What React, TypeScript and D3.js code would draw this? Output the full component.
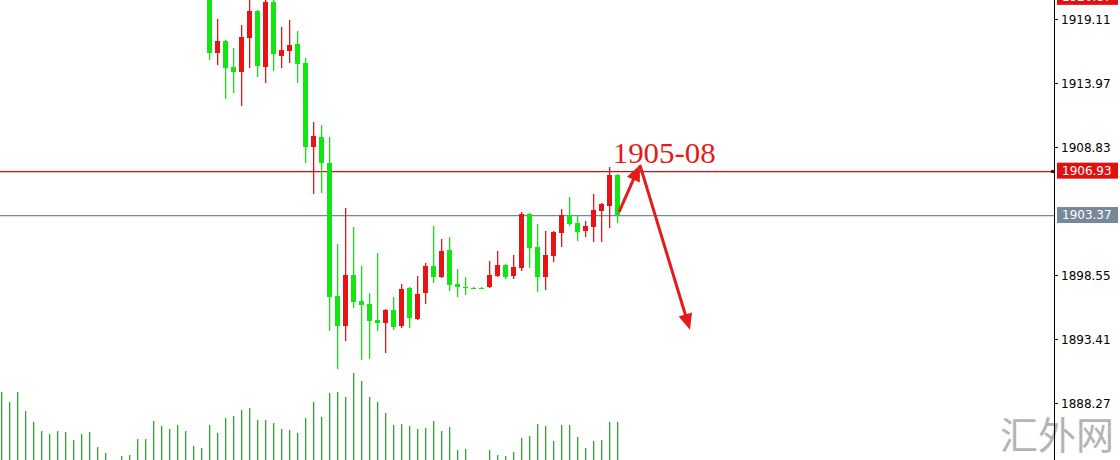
import React from 'react';
import * as d3 from 'd3';

const W = 1120;
const H = 460;

// index of the first visible candle within the volume series
const firstCandleIndex = 26;

const opens = [1921.40, 1916.37, 1917.33, 1915.25, 1914.84, 1917.57, 1919.74, 1915.25, 1920.46, 1916.13,
  1916.53, 1917.09, 1915.57, 1908.83, 1909.63, 1907.55, 1896.90, 1894.50, 1898.58, 1896.50,
  1896.26, 1894.98, 1894.74, 1895.78, 1894.50, 1897.54, 1895.06, 1897.14, 1899.30, 1898.42,
  1900.58, 1897.86, 1897.62, 1897.54, 1897.54, 1897.62, 1898.50, 1899.38, 1898.50, 1899.14,
  1903.46, 1900.82, 1898.42, 1900.10, 1901.94, 1903.38, 1902.74, 1902.10, 1902.42, 1903.70,
  1904.10, 1906.59];
const highs = [1921.90, 1919.09, 1917.40, 1916.77, 1918.61, 1921.10, 1919.80, 1921.20, 1920.90, 1918.45,
  1919.01, 1918.13, 1915.97, 1910.84, 1910.60, 1909.63, 1901.06, 1903.94, 1902.42, 1899.30,
  1897.14, 1900.34, 1895.86, 1896.82, 1897.86, 1897.62, 1898.50, 1899.54, 1902.50, 1901.46,
  1901.62, 1899.06, 1898.42, 1897.58, 1897.58, 1899.70, 1900.50, 1899.46, 1900.18, 1903.62,
  1903.54, 1902.66, 1902.10, 1902.10, 1903.86, 1904.82, 1903.30, 1902.90, 1905.06, 1904.30,
  1907.23, 1906.70];
const lows = [1915.89, 1915.49, 1912.76, 1913.24, 1912.20, 1915.25, 1914.52, 1914.04, 1915.01, 1915.25,
  1915.65, 1914.04, 1907.63, 1905.14, 1905.22, 1894.18, 1891.13, 1893.37, 1896.02, 1891.85,
  1891.93, 1894.18, 1892.41, 1894.26, 1894.42, 1894.42, 1895.00, 1896.34, 1898.02, 1898.38,
  1897.38, 1896.90, 1897.06, 1897.48, 1897.48, 1897.60, 1898.45, 1898.34, 1898.34, 1898.98,
  1899.22, 1897.30, 1897.46, 1899.70, 1900.90, 1902.60, 1901.38, 1901.70, 1901.30, 1901.30,
  1902.42, 1902.82];
const closes = [1916.37, 1917.33, 1915.17, 1914.84, 1917.65, 1919.74, 1915.33, 1920.46, 1916.29, 1916.61,
  1917.01, 1915.49, 1908.83, 1909.71, 1907.55, 1896.82, 1894.50, 1898.58, 1896.42, 1896.18,
  1894.90, 1894.74, 1895.78, 1894.42, 1897.46, 1895.14, 1897.06, 1899.30, 1898.42, 1900.50,
  1897.78, 1897.62, 1897.54, 1897.52, 1897.52, 1898.58, 1899.38, 1898.42, 1899.22, 1903.46,
  1900.74, 1898.42, 1900.18, 1902.02, 1903.38, 1902.66, 1902.02, 1902.50, 1903.78, 1904.26,
  1906.59, 1903.37];

const volumes = [68, 58, 68, 49, 38, 29, 26, 29, 28, 20, 26, 28, 13, 7, 0, 4, 5, 21, 21, 39,
  34, 31, 35, 29, 14, 12, 35, 27, 42, 44, 50, 52, 40, 40, 37, 31, 30, 27, 42, 58,
  43, 67, 68, 63, 87, 79, 63, 58, 47, 35, 36, 34, 31, 32, 39, 29, 33, 10, 11, 0,
  0, 10, 5, 4, 8, 22, 24, 36, 34, 19, 35, 35, 23, 12, 19, 20, 38, 38];

const axisTicks = [1919.11, 1913.97, 1908.83, 1898.55, 1893.41, 1888.27];

const topLinePrice = 1920.87;
const redLinePrice = 1906.93;
const bidPrice = 1903.37;

const annotationText = '1905-08';
const annotationAnchor = { index: 76.4, price: 1907.55 };
// arrow path: [bar index, price]
const arrowPoints: [number, number][] = [[77.2, 1903.62], [79.8, 1907.39], [86.06, 1894.16]];

const watermark = '汇外网';

const UP = '#e81414';
const DOWN = '#12e612';
const VOL = '#2fa52f';
const ANN = '#e31b1b';

export default function App() {
  const x = d3.scaleLinear().domain([0, 131]).range([1.5, 1.5 + 8 * 131]);
  const y = d3.scaleLinear().domain([1888.27, 1919.11]).range([403.3, 18.8]);
  const vy = d3.scaleLinear().domain([0, 100]).range([H, H - 100]);
  const axisX = 1054;
  const bodyW = 5;

  const candles = opens.map((o, i) => ({ i: i + firstCandleIndex, o, h: highs[i], l: lows[i], c: closes[i] }));

  const arrowSegs: JSX.Element[] = [];
  for (let s = 0; s < arrowPoints.length - 1; s++) {
    const x0 = x(arrowPoints[s][0]);
    const y0 = y(arrowPoints[s][1]);
    const x1 = x(arrowPoints[s + 1][0]);
    const y1 = y(arrowPoints[s + 1][1]);
    const dx = x1 - x0, dy = y1 - y0;
    const len = Math.hypot(dx, dy);
    const ux = dx / len, uy = dy / len;
    const headLen = 16, headW = 7;
    const bx = x1 - ux * headLen, by = y1 - uy * headLen;
    const px = -uy, py = ux;
    arrowSegs.push(
      <g key={'ar' + s}>
        <line x1={x0} y1={y0} x2={bx + ux * 2} y2={by + uy * 2} stroke={ANN} strokeWidth={3} />
        <polygon
          points={`${x1},${y1} ${bx + px * headW},${by + py * headW} ${bx - px * headW},${by - py * headW}`}
          fill={ANN}
        />
      </g>
    );
  }

  const priceBox = (price: number, fill: string, key: string) => {
    const cy = y(price);
    return (
      <g key={key}>
        <rect x={1057} y={cy - 8} width={61} height={16} fill={fill} />
        <text x={1062} y={cy} dominantBaseline="central" fontFamily="DejaVu Sans" fontSize={12} fill="#fff">
          {price.toFixed(2)}
        </text>
      </g>
    );
  };

  const hLine = (price: number, color: string, key: string) => (
    <g key={key} shapeRendering="crispEdges">
      <rect x={0} y={Math.round(y(price))} width={axisX} height={1} fill={color} />
      <rect x={0} y={Math.round(y(price)) + 1} width={axisX} height={1} fill={color} opacity={0.25} />
    </g>
  );

  return (
    <svg width={W} height={H} style={{ position: 'fixed', left: 0, top: 0, background: '#fff' }}>
      <rect x={0} y={0} width={W} height={H} fill="#fff" />
      {/* watermark */}
      <text x={1114} y={449} textAnchor="end" fontFamily="Noto Sans CJK SC" fontSize={38} fill="#b4b4b4">
        {watermark}
      </text>
      {/* volume */}
      <g shapeRendering="crispEdges">
        {volumes.map((v, k) => (
          <g key={'v' + k}>
            <rect x={x(k) - 0.5} y={vy(v)} width={1} height={vy(0) - vy(v)} fill={VOL} />
            <rect x={x(k) + 0.5} y={vy(v)} width={1} height={vy(0) - vy(v)} fill={VOL} opacity={0.3} />
          </g>
        ))}
      </g>
      {/* price lines */}
      {hLine(redLinePrice, '#d01010', 'redline')}
      {hLine(bidPrice, '#778899', 'bidline')}
      <rect x={axisX - 3} y={Math.round(y(redLinePrice)) - 1} width={3} height={3} fill="#700" />
      {/* candles */}
      <g shapeRendering="crispEdges">
        {candles.map((d) => {
          const cx = x(d.i);
          const up = d.c >= d.o;
          const col = up ? UP : DOWN;
          const top = Math.round(y(Math.max(d.o, d.c)));
          const bot = Math.round(y(Math.min(d.o, d.c)));
          const hy = Math.round(y(d.h));
          const ly = Math.round(y(d.l)) + 1;
          return (
            <g key={'c' + d.i}>
              <rect x={cx - 0.5} y={hy} width={1} height={ly - hy} fill={col} />
              <rect x={cx + 0.5} y={hy} width={1} height={ly - hy} fill={col} opacity={0.3} />
              <rect x={cx - bodyW / 2} y={top} width={bodyW} height={Math.max(1, bot - top)} fill={col} />
            </g>
          );
        })}
      </g>
      {/* annotation */}
      <text
        x={x(annotationAnchor.index)}
        y={y(annotationAnchor.price)}
        fontFamily="Liberation Serif"
        fontSize={29}
        fill={ANN}
        textLength={103}
        lengthAdjust="spacingAndGlyphs"
      >
        {annotationText}
      </text>
      {arrowSegs}
      {/* right axis */}
      <rect x={axisX} y={0} width={1} height={H} fill="#000" shapeRendering="crispEdges" />
      {axisTicks.map((t) => (
        <g key={'t' + t}>
          <rect x={axisX} y={Math.round(y(t))} width={4} height={1} fill="#000" shapeRendering="crispEdges" />
          <text x={1061} y={y(t) + 1} dominantBaseline="central" fontFamily="DejaVu Sans" fontSize={12} fill="#000">
            {t.toFixed(2)}
          </text>
        </g>
      ))}
      {priceBox(topLinePrice, '#e01010', 'top')}
      {priceBox(redLinePrice, '#e01010', 'red')}
      {priceBox(bidPrice, '#778899', 'bid')}
    </svg>
  );
}
